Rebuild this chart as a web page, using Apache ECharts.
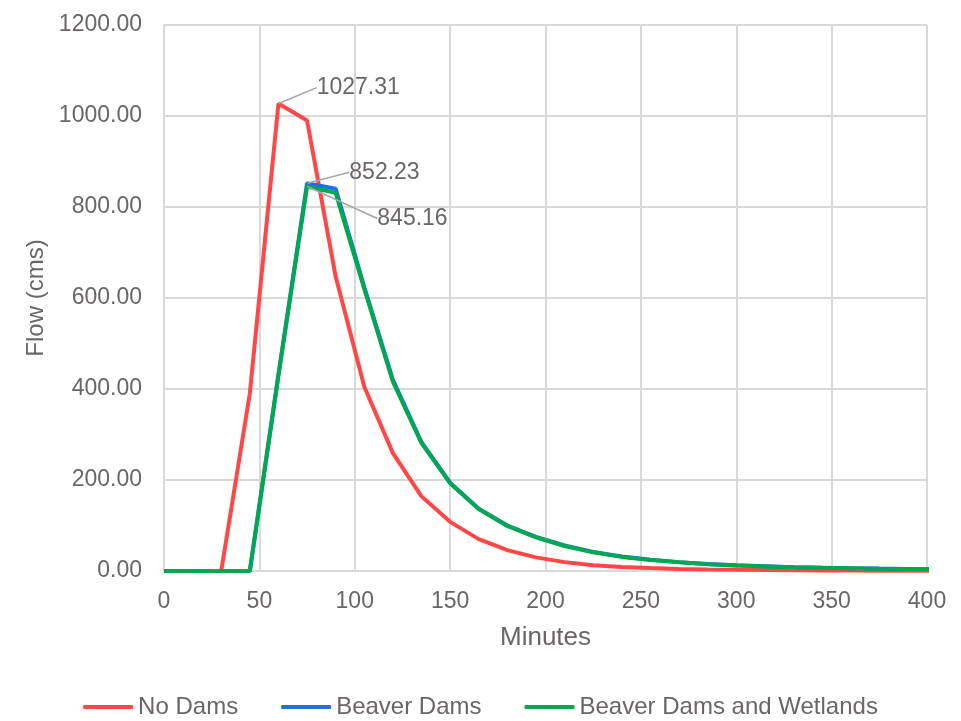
<!DOCTYPE html>
<html>
<head>
<meta charset="utf-8">
<script src="https://cdn.jsdelivr.net/npm/echarts@6/dist/echarts.min.js"></script>
<style>html,body{margin:0;padding:0;background:#fff}#c{width:961px;height:721px}</style>
</head>
<body>
<div id="c"></div>
<script>
var minutes = [0,15,30,45,60,75,90,105,120,135,150,165,180,195,210,225,240,255,270,285,300,315,330,345,360,375,390,405];
var noDams = [0,0,0,390,1027.31,990,647,405,259,164,108,70,46,30,19.5,12.5,9,6.5,4.5,3.3,2.5,2,1.5,1.2,1,0.8,0.6,0.5];
var beaverDams = [0,0,0,0,432,852.23,840,624,420,283,194,137,100,75,56,42,32,25,19.5,15.5,12.5,10.5,8.5,7.2,6.2,5.3,4.6,4];
var beaverWetlands = [0,0,0,0,430,845.16,831,620,416,281,193,136,99,74,55,41,31,24,19,15,12,10,8,7,6,5,4.5,4];
var seriesNames = ['No Dams','Beaver Dams','Beaver Dams and Wetlands'];
var colors = ['#FF4747','#1F6FEB','#00A84F'];
var yTicks = {min:0,max:1200,interval:200};
var xTicks = {min:0,max:400,interval:50};

var FS = 23, TXT = '#6b6666', FONT = 'Liberation Sans, Arial, sans-serif';

function mk(name, vals, color, labelIdx, dx, dy){
  var data = minutes.map(function(m,i){
    var d = {value: [m, vals[i]]};
    if (i === labelIdx) {
      d.label = {show: true};
      d.labelLine = {show: true};
    }
    return d;
  });
  return {
    name: name, type: 'line', data: data, showSymbol: true, symbol: 'circle', symbolSize: 0.5,
    lineStyle: {width: 4, color: color}, itemStyle: {color: color},
    emphasis: {disabled: true},
    label: {
      show: false, position: 'right', fontSize: FS, color: TXT, fontFamily: FONT, distance: 5,
      padding: [0, 0, 0, 9],
      formatter: function(p){ return p.value[1].toFixed(2); }
    },
    labelLine: {show: false, lineStyle: {color: '#a6a6a6', width: 1.5}},
    labelLayout: function(p){
      if (p.dataIndex === labelIdx) return {dx: dx, dy: dy};
      return {};
    }
  };
}

var chart = echarts.init(document.getElementById('c'));
chart.setOption({
  animation: false,
  textStyle: {fontFamily: FONT},
  grid: {left: 164, right: 34, top: 25, bottom: 150},
  legend: {
    bottom: -3, left: 'center', itemWidth: 50, itemHeight: 4, itemGap: 43,
    icon: 'roundRect',
    textStyle: {fontSize: 24, color: TXT, fontFamily: FONT},
    data: seriesNames
  },
  xAxis: {
    type: 'value', min: xTicks.min, max: xTicks.max, interval: xTicks.interval,
    name: 'Minutes', nameLocation: 'middle', nameGap: 54,
    nameTextStyle: {fontSize: 26, color: TXT, fontFamily: FONT},
    axisLine: {show: true, lineStyle: {color: '#d9d9d9', width: 2}},
    axisTick: {show: false},
    axisLabel: {fontSize: FS, color: TXT, fontFamily: FONT, margin: 19},
    splitLine: {show: true, lineStyle: {color: '#d9d9d9', width: 2}}
  },
  yAxis: {
    type: 'value', min: yTicks.min, max: yTicks.max, interval: yTicks.interval,
    name: 'Flow (cms)', nameLocation: 'middle', nameGap: 116, nameRotate: 90,
    nameTextStyle: {fontSize: 24, color: TXT, fontFamily: FONT},
    axisLine: {show: true, lineStyle: {color: '#d9d9d9', width: 2}},
    axisTick: {show: false},
    axisLabel: {fontSize: FS, color: TXT, fontFamily: FONT, margin: 22,
      formatter: function(v){ return v.toFixed(2); }},
    splitLine: {show: true, lineStyle: {color: '#d9d9d9', width: 2}}
  },
  series: [
    mk(seriesNames[0], noDams, colors[0], 4, 24, -16),
    mk(seriesNames[1], beaverDams, colors[1], 5, 28, -11),
    mk(seriesNames[2], beaverWetlands, colors[2], 5, 56, 32)
  ]
});
</script>
</body>
</html>
